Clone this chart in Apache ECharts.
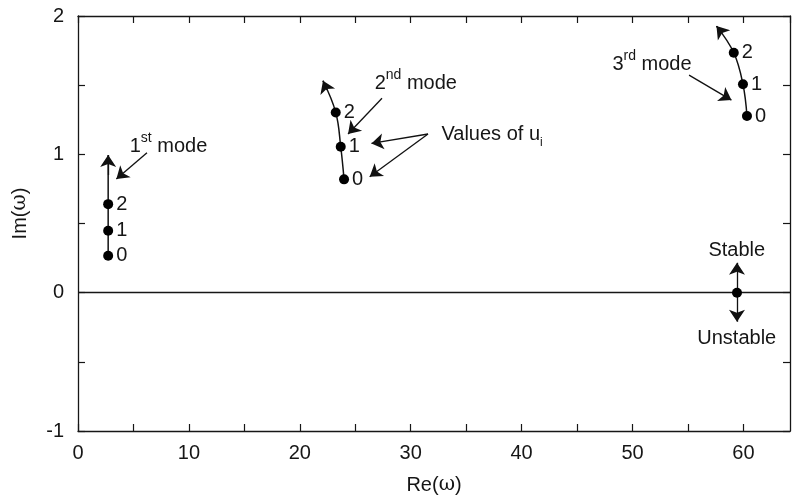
<!DOCTYPE html>
<html>
<head>
<meta charset="utf-8">
<script src="https://cdn.jsdelivr.net/npm/echarts@6/dist/echarts.min.js"></script>
<style>
html, body { margin: 0; padding: 0; background: #fff; }
#chart { width: 792px; height: 498px; }
</style>
</head>
<body>
<div id="chart"></div>
<script>
// points: [Re, Im]
var mode1 = [[2.72, 0.267], [2.72, 0.448], [2.72, 0.64]];
var mode2 = [[23.99, 0.819], [23.69, 1.055], [23.24, 1.303]];
var mode3 = [[60.32, 1.277], [59.96, 1.506], [59.13, 1.734]];
var pointNames = ['0', '1', '2'];
var tips = [[2.72, 0.995], [22.09, 1.532], [57.57, 1.927]];
var stablePoint = [59.42, 0];

// annotation arrows [from, to]
var arrows = [
    [[6.22, 1.012], [3.46, 0.821]],
    [[27.41, 1.405], [24.35, 1.147]],
    [[31.56, 1.147], [26.46, 1.079]],
    [[31.56, 1.147], [26.30, 0.838]],
    [[55.10, 1.573], [58.92, 1.392]],
    [[59.42, 0], [59.42, 0.217]],
    [[59.42, 0], [59.42, -0.21]]
];
// arrow heads on the curves
var heads = [
    [[2.72, 0.85], tips[0]],
    [[22.45, 1.465], tips[1]],
    [[58.1, 1.875], tips[2]]
];
// text notes [x, y, text, anchor]
var notes = [
    [4.66, 1.08, '{n|1}{s|st}{n| mode}', 'left'],
    [26.75, 1.537, '{n|2}{s|nd}{n| mode}', 'left'],
    [48.19, 1.674, '{n|3}{s|rd}{n| mode}', 'left'],
    [32.77, 1.163, '{n|Values of u}{b|i}', 'left'],
    [59.4, 0.33, '{n|Stable}', 'center'],
    [59.4, -0.306, '{n|Unstable}', 'center']
];

var xMin = 0, xMax = 64.2, yMin = -1, yMax = 2;
var font = 'Liberation Sans, Arial, sans-serif';
var ink = '#161616';

var rich = {
    n: { fontSize: 20, fontFamily: font, color: ink, lineHeight: 26, verticalAlign: 'bottom' },
    s: { fontSize: 14, fontFamily: font, color: ink, lineHeight: 26, verticalAlign: 'top', padding: [1, 0, 0, 0] },
    b: { fontSize: 12, fontFamily: font, color: ink, lineHeight: 20, verticalAlign: 'bottom', padding: [0, 0, -4, 0] },
    w: { fontSize: 20, fontFamily: 'DejaVu Serif, serif', color: ink }
};

function pointSeries(data) {
    return {
        type: 'scatter',
        symbolSize: 10,
        itemStyle: { color: '#000', opacity: 1 },
        data: data,
        z: 5,
        label: {
            show: true,
            position: 'right',
            distance: 3,
            fontSize: 20,
            fontFamily: font,
            color: ink,
            formatter: function (p) { return pointNames[p.dataIndex]; }
        }
    };
}

function curveSeries(pts, tip) {
    return {
        type: 'line',
        smooth: 0.4,
        showSymbol: false,
        lineStyle: { color: '#111', width: 1.5 },
        data: pts.concat([tip]),
        z: 3
    };
}

var axisStyle = { lineStyle: { color: ink, width: 1.3 }, onZero: false };
var tickStyle = { inside: true, length: 7, lineStyle: { color: ink, width: 1.2 } };

var option = {
    animation: false,
    backgroundColor: '#fff',
    grid: { left: 78, right: 2, top: 16, bottom: 67, outerBoundsMode: 'none', containLabel: false },
    xAxis: [
        {
            type: 'value', min: xMin, max: xMax, interval: 5, position: 'bottom',
            axisLine: axisStyle, axisTick: tickStyle, splitLine: { show: false },
            axisLabel: {
                fontSize: 20, fontFamily: font, color: ink, margin: 12, showMaxLabel: false,
                formatter: function (v) { return v % 10 === 0 ? String(v) : ''; }
            },
            name: 'Re({w|ω})', nameLocation: 'middle', nameGap: 44,
            nameTextStyle: { fontSize: 20, fontFamily: font, color: ink, rich: rich }
        },
        {
            type: 'value', min: xMin, max: xMax, interval: 5, position: 'top',
            axisLine: axisStyle, axisTick: tickStyle, splitLine: { show: false },
            axisLabel: { show: false }
        }
    ],
    yAxis: [
        {
            type: 'value', min: yMin, max: yMax, interval: 0.5, position: 'left',
            axisLine: axisStyle, axisTick: tickStyle, splitLine: { show: false },
            axisLabel: {
                fontSize: 20, fontFamily: font, color: ink, margin: 14,
                formatter: function (v) { return v % 1 === 0 ? String(v) : ''; }
            },
            name: 'Im({w|ω})', nameLocation: 'middle', nameGap: 48, nameRotate: 90,
            nameTextStyle: { fontSize: 20, fontFamily: font, color: ink, rich: rich, padding: [0, 0, 0, 20] }
        },
        {
            type: 'value', min: yMin, max: yMax, interval: 0.5, position: 'right',
            axisLine: axisStyle, axisTick: tickStyle, splitLine: { show: false },
            axisLabel: { show: false }
        }
    ],
    series: [
        {
            type: 'line',
            data: [],
            markLine: {
                silent: true,
                symbol: 'none',
                label: { show: false },
                lineStyle: { color: ink, width: 1.3, type: 'solid' },
                data: [{ yAxis: 0 }]
            }
        },
        curveSeries([mode1[0]], tips[0]),
        curveSeries(mode2, tips[1]),
        curveSeries(mode3, tips[2]),
        pointSeries(mode1),
        pointSeries(mode2),
        pointSeries(mode3),
        {
            type: 'scatter',
            symbolSize: 10,
            itemStyle: { color: '#000', opacity: 1 },
            data: [stablePoint],
            z: 5
        },
        {
            type: 'lines',
            coordinateSystem: 'cartesian2d',
            symbol: ['none', 'arrow'],
            symbolSize: 12,
            lineStyle: { color: '#111', width: 1.3, opacity: 1 },
            data: arrows.concat(heads).map(function (a) { return { coords: a }; }),
            z: 4
        },
        {
            type: 'scatter',
            symbolSize: 0,
            itemStyle: { opacity: 1 },
            data: notes.map(function (t) {
                return {
                    value: [t[0], t[1]],
                    label: {
                        show: true,
                        position: t[3] === 'left' ? 'right' : 'inside',
                        distance: 0,
                        formatter: t[2],
                        rich: rich
                    }
                };
            }),
            z: 6
        }
    ]
};

var myChart = echarts.init(document.getElementById('chart'));
myChart.setOption(option);
</script>
</body>
</html>
